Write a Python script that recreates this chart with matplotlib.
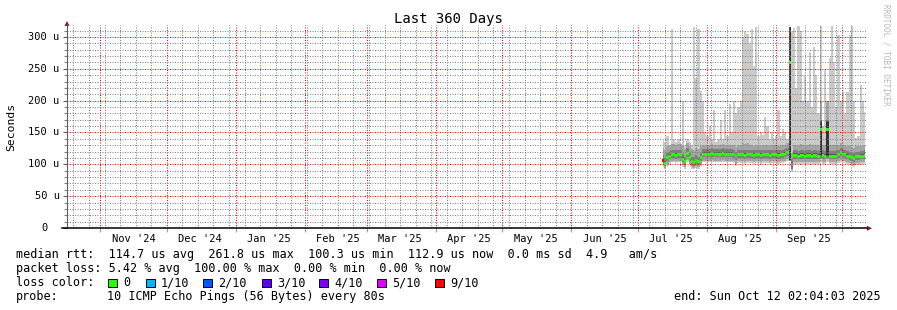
import matplotlib
matplotlib.use('Agg')
import matplotlib.pyplot as plt
import matplotlib.dates as mdates
from matplotlib.ticker import MultipleLocator
from matplotlib.patches import Rectangle, Polygon
from matplotlib.lines import Line2D
from matplotlib.transforms import blended_transform_factory
from datetime import datetime, timedelta
import numpy as np

# ---------------- data (values in microseconds) ----------------
rtt_median = [106,102,110,113,115,115,114,115,115,108,
              104,117,110,104,103,106,104,110,116,116,
              116,116,117,116,116,116,116,117,116,116,
              116,116,115,112,115,115,115,114,115,115,
              115,114,115,115,114,115,115,115,114,115,
              115,115,114,115,115,116,118,260,99,114,
              114,113,114,114,113,114,114,113,114,114,
              113,154,114,113,154,113,113,113,113,115,
              118,116,115,113,112,110,109,112,112,113,
              113,114]

ping_1 = [96,92,98,101,103,103,102,103,103,96,
          93,104,98,93,92,95,93,98,103,103,
          103,103,104,103,103,103,103,104,103,103,
          103,103,102,97,102,102,102,101,102,102,
          102,101,102,102,101,102,102,102,101,102,
          102,102,101,102,102,103,105,105,88,101,
          101,100,101,101,100,101,101,100,101,101,
          100,104,101,100,104,100,100,100,100,102,
          104,103,102,100,99,97,96,99,99,100,
          100,101]
ping_2 = [99,95,101,104,106,106,105,106,106,99,
          96,107,101,96,95,98,96,101,106,106,
          106,106,107,106,106,106,106,107,106,106,
          106,106,105,100,105,105,105,104,105,105,
          105,104,105,105,104,105,105,105,104,105,
          105,105,104,105,105,106,108,106,91,104,
          104,103,104,104,103,104,104,103,104,104,
          103,108,104,103,108,103,103,103,103,105,
          107,106,105,103,102,100,99,102,102,103,
          103,104]
ping_3 = [101,97,105,108,110,110,109,110,110,103,
          99,112,105,99,98,101,99,105,111,111,
          111,111,112,111,111,111,111,112,111,111,
          111,111,110,107,110,110,110,109,110,110,
          110,109,110,110,109,110,110,110,109,110,
          110,110,109,110,110,111,113,106,93,109,
          109,108,109,109,108,109,109,108,109,109,
          108,110,109,108,110,108,108,108,108,110,
          113,111,110,108,107,105,104,107,107,108,
          108,109]
ping_4 = [104,100,108,111,113,113,112,113,113,106,
          102,115,108,102,101,104,102,108,114,114,
          114,114,115,114,114,114,114,115,114,114,
          114,114,113,110,113,113,113,112,113,113,
          113,112,113,113,112,113,113,113,112,113,
          113,113,112,113,113,114,116,107,96,112,
          112,111,112,112,111,112,112,111,112,112,
          111,113,112,111,113,111,111,111,111,113,
          116,114,113,111,110,108,107,110,110,111,
          111,112]
ping_5 = [105,101,109,112,114,114,113,114,114,107,
          103,116,109,103,102,105,103,109,115,115,
          115,115,116,115,115,115,115,116,115,115,
          115,115,114,111,114,114,114,113,114,114,
          114,113,114,114,113,114,114,114,113,114,
          114,114,113,114,114,115,117,107,97,113,
          113,112,113,113,112,113,113,112,113,113,
          112,114,113,112,114,112,112,112,112,114,
          117,115,114,112,111,109,108,111,111,112,
          112,113]
ping_6 = [107,103,111,114,116,116,115,116,116,109,
          105,118,111,105,104,107,105,111,117,117,
          117,117,118,117,117,117,117,118,117,117,
          117,117,116,113,116,116,116,115,116,116,
          116,115,116,116,115,116,116,116,115,116,
          116,116,115,116,116,117,119,315,100,115,
          115,114,115,115,114,115,115,114,115,115,
          114,166,115,114,166,114,114,114,114,116,
          119,117,116,114,113,111,110,113,113,114,
          114,115]
ping_7 = [109,105,113,116,118,118,117,118,118,111,
          107,120,113,107,106,109,107,113,119,119,
          119,119,120,119,119,119,119,120,119,119,
          119,119,118,115,118,118,118,117,118,118,
          118,117,118,118,117,118,118,118,117,118,
          118,118,117,118,118,119,121,315,103,117,
          117,116,117,117,116,117,117,116,117,117,
          116,168,117,116,168,116,116,116,116,118,
          121,119,118,116,115,113,112,115,115,116,
          116,117]
ping_8 = [114,110,118,121,123,123,122,123,123,116,
          112,125,118,112,111,114,112,118,124,124,
          124,124,125,124,124,124,124,125,124,124,
          124,124,123,120,123,123,123,122,123,123,
          123,122,123,123,122,123,123,123,122,123,
          123,123,122,123,123,124,126,315,108,122,
          122,121,122,122,121,122,122,121,122,122,
          121,170,122,121,170,121,121,121,121,123,
          126,124,123,121,120,118,117,120,120,121,
          121,122]
ping_9 = [125,122,128,130,132,132,131,132,132,128,
          124,134,129,124,123,126,124,128,131,131,
          131,131,132,131,131,131,131,132,131,131,
          131,131,130,127,130,131,133,132,133,131,
          130,129,130,130,129,130,130,130,129,130,
          130,130,129,130,130,131,133,315,118,130,
          131,130,132,131,130,131,132,130,131,131,
          130,200,131,130,200,130,131,130,130,131,
          133,131,130,129,128,127,126,128,128,129,
          129,130]
ping_10 = [138,135,145,130,312,140,135,140,130,200,
           130,140,135,130,315,235,312,215,200,150,
           145,160,140,185,135,140,170,140,185,145,
           195,150,200,180,190,200,300,310,305,290,
           312,255,315,145,150,146,175,160,140,150,
           140,145,185,145,155,150,140,315,310,314,
           220,318,310,200,240,200,276,190,285,240,
           180,318,160,250,200,267,318,260,190,303,
           200,213,180,213,303,318,200,141,145,224,
           200,182]
loss_tenths = [10,0,0,0,0,0,0,0,0,0,
               0,0,0,0,0,0,0,0,0,0,
               0,0,0,0,0,0,0,0,0,0,
               0,0,0,0,0,0,0,0,0,0,
               0,0,0,0,0,0,0,0,0,0,
               0,0,0,0,0,0,0,0,1,0,
               0,0,0,0,0,0,0,0,0,0,
               0,0,0,0,0,0,0,0,0,0,
               0,0,0,0,0,0,0,0,0,0,
               0,0]

month_labels = ["Nov '24", "Dec '24", "Jan '25", "Feb '25", "Mar '25", "Apr '25",
                "May '25", "Jun '25", "Jul '25", "Aug '25", "Sep '25"]
y_ticks = [0, 50, 100, 150, 200, 250, 300]
y_tick_labels = ["0", "50 u", "100 u", "150 u", "200 u", "250 u", "300 u"]

legend_lines = [
    "median rtt:  114.7 us avg  261.8 us max  100.3 us min  112.9 us now  0.0 ms sd  4.9   am/s",
    "packet loss: 5.42 % avg  100.00 % max  0.00 % min  0.00 % now",
]
loss_legend_labels = ["0", "1/10", "2/10", "3/10", "4/10", "5/10", "9/10"]
loss_legend_colors = ["#26ff00", "#00b8ff", "#0059ff", "#5e00ff", "#7e00ff", "#dd00ff", "#ff0000"]
probe_text = "10 ICMP Echo Pings (56 Bytes) every 80s"
end_text = "end: Sun Oct 12 02:04:03 2025"

# ---------------- figure ----------------
W, H = 897, 310
MONO = 'DejaVu Sans Mono'
plt.rcParams['font.family'] = [MONO]
fig = plt.figure(figsize=(W / 100, H / 100), dpi=100)
fig.patch.set_facecolor('white')


def fx(x):
    return x / W


def fy(y):
    return 1 - y / H


t_start = datetime(2024, 10, 17, 2, 4, 3)
t_end = datetime(2025, 10, 12, 2, 4, 3)
first_day = datetime(2025, 7, 12, 7, 0)
dates = [first_day + timedelta(days=i) for i in range(len(rtt_median))]

ax = fig.add_axes([fx(67), fy(228), 800 / W, (228 - 25) / H])
ax.set_facecolor('white')
ax.set_xlim(t_start, t_end)
ax.set_ylim(0, 318.8)

bands = [(ping_1, ping_10, '#cacaca'), (ping_2, ping_9, '#a4a4a4'),
         (ping_3, ping_8, '#7e7e7e'), (ping_4, ping_7, '#585858'),
         (ping_5, ping_6, '#323232')]
for lo, hi, c in bands:
    ax.fill_between(dates, lo, hi, step='mid', color=c, linewidth=0, zorder=1)

med = np.array(rtt_median, dtype=float)
w = 2.3
ax.fill_between(dates, med - w, med + w, step='mid', color=loss_legend_colors[0],
                linewidth=0, zorder=3)
loss_color_map = {1: "#00b8ff", 2: "#0059ff", 3: "#5e00ff", 4: "#7e00ff",
                  5: "#dd00ff", 10: "#ff0000"}
for d, m, l in zip(dates, rtt_median, loss_tenths):
    if l > 0:
        ax.bar(d, 2 * w, bottom=m - w, width=0.9, color=loss_color_map[l],
               linewidth=0, zorder=4)

# grid
ax.xaxis.set_major_locator(mdates.MonthLocator())
ax.xaxis.set_minor_locator(mdates.WeekdayLocator(byweekday=mdates.SU))
ax.yaxis.set_major_locator(MultipleLocator(50))
ax.yaxis.set_minor_locator(MultipleLocator(10))
ax.set_axisbelow(False)
ax.grid(which='minor', color=(0.5, 0.5, 0.5, 0.22), linestyle=(0, (1, 1.5)),
        linewidth=0.72)
ax.grid(which='major', color=(1.0, 0.0, 0.0, 0.22), linestyle=(0, (1, 1.5)),
        linewidth=0.72)
ax.tick_params(axis='y', which='major', length=3, width=0.8, color='#606060',
               direction='out', labelleft=False)
ax.tick_params(axis='y', which='minor', length=2, width=0.8, color='#808080',
               direction='out')
ax.tick_params(axis='x', which='major', length=3, width=0.8, color='#f08080',
               direction='out', labelbottom=False)
ax.tick_params(axis='x', which='minor', length=0)
for s in ax.spines.values():
    s.set_visible(False)

# tick labels
tr_y = blended_transform_factory(fig.transFigure, ax.transData)
for v, lab in zip(y_ticks, y_tick_labels):
    xr = 59.5 if lab != "0" else 47.5
    ax.text(fx(xr), v, lab, transform=tr_y, ha='right', va='center',
            fontsize=7.5, family=MONO, color='black')
tr_x = blended_transform_factory(ax.transData, fig.transFigure)
for k, lab in enumerate(month_labels):
    mth = 11 + k
    yr = 2024 + (mth - 1) // 12
    mm = (mth - 1) % 12 + 1
    center = datetime(yr, mm, 16, 0, 0)
    ax.text(center, fy(238.5), lab, transform=tr_x, ha='center', va='center',
            fontsize=7.5, family=MONO, color='black')

# axis lines and arrows
fig.add_artist(Line2D([fx(67), fx(67)], [fy(228), fy(25)], color='#606060', lw=0.8))
fig.add_artist(Line2D([fx(62), fx(867)], [fy(228.3), fy(228.3)], color='black', lw=1.1))
fig.add_artist(Polygon([(fx(64.5), fy(26)), (fx(69.5), fy(26)), (fx(67), fy(21))],
                       closed=True, color='#8b1a1a', lw=0))
fig.add_artist(Polygon([(fx(867), fy(225.8)), (fx(867), fy(230.8)), (fx(872), fy(228.3))],
                       closed=True, color='#8b1a1a', lw=0))

# texts
LFS = 8.5
fig.text(fx(448), fy(19), 'Last 360 Days', ha='center', va='center', fontsize=10, family=MONO)
fig.text(fx(11), fy(127), 'Seconds', rotation=90, ha='center', va='center',
         fontsize=8.2, family=MONO)
fig.text(fx(886), fy(4), 'RRDTOOL / TOBI OETIKER', rotation=270, ha='center', va='top',
         fontsize=5.5, family=MONO, color='#b8b8b8')

fig.text(fx(16), fy(254.5), legend_lines[0], ha='left', va='center', fontsize=LFS, family=MONO)
fig.text(fx(16), fy(268.5), legend_lines[1], ha='left', va='center', fontsize=LFS, family=MONO)
fig.text(fx(16), fy(282.5), "loss color:", ha='left', va='center', fontsize=LFS, family=MONO)
box_x = [108, 146, 203, 262, 319, 377, 435]
for bx, lab, col in zip(box_x, loss_legend_labels, loss_legend_colors):
    fig.add_artist(Rectangle((fx(bx), fy(287)), 8.5 / W, 8.5 / H, facecolor=col,
                             edgecolor='black', lw=0.7))
    fig.text(fx(bx + 15), fy(282.5), lab, ha='left', va='center', fontsize=LFS, family=MONO)
fig.text(fx(16), fy(296.5), "probe:", ha='left', va='center', fontsize=LFS, family=MONO)
fig.text(fx(107), fy(296.5), probe_text, ha='left', va='center', fontsize=LFS, family=MONO)
fig.text(fx(881), fy(296.5), end_text, ha='right', va='center', fontsize=LFS, family=MONO)

fig.savefig('out.png', dpi=100, facecolor='white')
